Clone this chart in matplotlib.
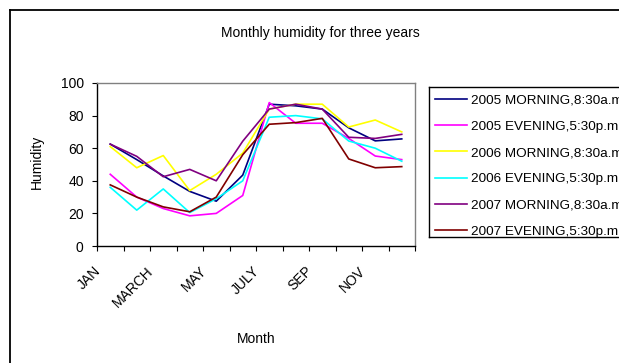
import matplotlib
matplotlib.use("Agg")
import matplotlib.pyplot as plt
import matplotlib.transforms as mtransforms
from matplotlib.lines import Line2D

plt.rcParams['font.family'] = ['Liberation Sans', 'DejaVu Sans']

months = ["JAN", "FEB", "MARCH", "APR", "MAY", "JUNE",
          "JULY", "AUG", "SEP", "OCT", "NOV", "DEC"]

morning_2005 = [62.5, 53, 43, 33.5, 27.5, 43.5, 87, 86, 84, 72.5, 64.5, 65.7]
evening_2005 = [44, 30, 23, 18.5, 20, 31, 88, 75.3, 75.3, 66, 55.2, 53]
morning_2006 = [61, 48, 55.5, 34, 44, 57, 84, 87, 87, 73, 77.3, 70]
evening_2006 = [36, 22, 35, 20.5, 29, 40, 79, 80, 78, 64.4, 60, 52]
morning_2007 = [62.5, 55, 42.5, 47, 40, 64.3, 84, 87, 84, 66.7, 66, 68.5]
evening_2007 = [37.5, 30, 24, 21, 30, 56, 74.7, 75.7, 78.3, 53.4, 48, 48.7]

series = [
    ("2005 MORNING,8:30a.m.", morning_2005, "#000080"),
    ("2005 EVENING,5:30p.m.", evening_2005, "#FF00FF"),
    ("2006 MORNING,8:30a.m.", morning_2006, "#FFFF00"),
    ("2006 EVENING,5:30p.m.", evening_2006, "#00FFFF"),
    ("2007 MORNING,8:30a.m.", morning_2007, "#800080"),
    ("2007 EVENING,5:30p.m.", evening_2007, "#800000"),
]

W, H = 619, 363
fig = plt.figure(figsize=(W / 100, H / 100), dpi=100)
ax = fig.add_axes([97 / W, 1 - 246 / H, (415 - 97) / W, (246 - 83) / H])

x = list(range(len(months)))
for label, vals, color in series:
    ax.plot(x, vals, color=color, lw=1.2, label=label)

ax.set_xlim(-0.5, len(months) - 0.5)
ax.set_ylim(0, 100)
ax.set_yticks(range(0, 101, 20))
ax.tick_params(axis='y', direction='out', length=3.6, width=0.8, labelsize=10, pad=6)

# ticks sit on category boundaries, labels on every other category
ax.set_xticks([i - 0.5 for i in range(len(months) + 1)])
ax.set_xticklabels([])
ax.tick_params(axis='x', direction='out', length=3.6, width=0.8)
offset = mtransforms.ScaledTranslation(-12 / 100, -23 / 100, fig.dpi_scale_trans)
for i in range(0, len(months), 2):
    ax.text(i, 0, months[i], rotation=45, rotation_mode='anchor',
            ha='right', va='center', fontsize=10,
            transform=ax.get_xaxis_transform() + offset)

for side in ('left', 'bottom'):
    ax.spines[side].set_color('black')
    ax.spines[side].set_linewidth(1.0)
for side in ('top', 'right'):
    ax.spines[side].set_color('#808080')
    ax.spines[side].set_linewidth(1.0)

fig.text(320 / W, 1 - 33 / H, "Monthly humidity for three years",
         ha='center', va='center', fontsize=10)
fig.text(37 / W, 1 - 162 / H, "Humidity", rotation=90,
         ha='center', va='center', fontsize=10)
fig.text(256 / W, 1 - 339 / H, "Month", ha='center', va='center', fontsize=10)

leg = ax.legend(loc='upper left', bbox_to_anchor=(429 / W, 1 - 88 / H),
                bbox_transform=fig.transFigure, fontsize=9.7,
                frameon=False, handlelength=2.35, handletextpad=0.3,
                labelspacing=1.03, borderpad=0.45, borderaxespad=0)


def fig_line(xs, ys, **kw):
    fig.add_artist(Line2D([v / W for v in xs], [1 - v / H for v in ys],
                          transform=fig.transFigure, color='black', **kw))


# legend box (runs off the right edge)
fig_line([429, 429], [87, 237], lw=1.0)
fig_line([429, W + 5], [87, 87], lw=1.0)
fig_line([429, W + 5], [237, 237], lw=1.0)

# outer chart border
fig_line([10, 10], [10, H + 5], lw=1.3)
fig_line([10, W + 5], [10, 10], lw=1.3)

fig.savefig("out.png", dpi=100)
